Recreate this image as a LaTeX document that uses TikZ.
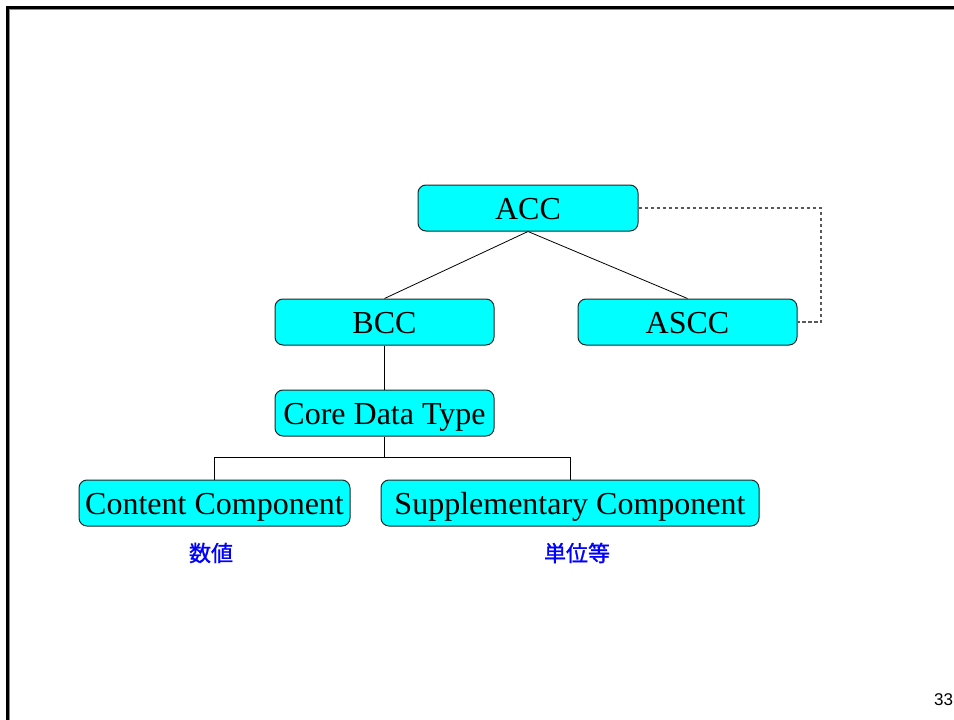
\documentclass[tikz,border=0pt]{standalone}
\usepackage{fontspec}
\setmainfont{Liberation Serif}
\newfontfamily\cjkfont[FakeBold=1.2]{Noto Sans CJK JP}
\newfontfamily\numfont{Liberation Sans}
\definecolor{boxcyan}{RGB}{0,255,255}
\definecolor{labelblue}{RGB}{0,0,255}
\begin{document}
\begin{tikzpicture}[x=1pt,y=-1pt,
  ccbox/.style={draw=black!85, line width=1pt, fill=boxcyan, rounded corners=8pt,
    minimum height=46pt, inner sep=0pt, text height=22pt, text depth=0pt,
    font=\fontsize{32}{38}\selectfont},
  link/.style={draw=black, line width=0.8pt},
  dashlink/.style={draw=black!65, line width=1.3pt, dash pattern=on 3.5pt off 2.5pt},
  note/.style={text=labelblue, font=\cjkfont\fontsize{22}{26}\selectfont}]
\useasboundingbox (0,0) rectangle (954,720);
\clip (0,0) rectangle (954,720);
% frame
\draw[black!45, line width=1pt] (9.5,720) -- (9.5,9.5) -- (954,9.5);
\draw[black, line width=3pt] (7,720) -- (7,7) -- (954,7);
% boxes
\node[ccbox, minimum width=220pt] (acc) at (528,208) {ACC};
\node[ccbox, minimum width=219pt] (bcc) at (384.5,322) {BCC};
\node[ccbox, minimum width=219pt] (ascc) at (687.5,322) {ASCC};
\node[ccbox, minimum width=219pt] (cdt) at (384.5,413) {Core Data Type};
\node[ccbox, minimum width=271pt] (cc) at (214.5,503) {Content Component};
\node[ccbox, minimum width=378pt] (sc) at (570,503) {Supplementary Component};
% connectors
\draw[link] (acc.south) -- (bcc.north);
\draw[link] (acc.south) -- (ascc.north);
\draw[link] (bcc.south) -- (cdt.north);
\coordinate (split) at (384.5,457);
\draw[link] (cdt.south) -- (split);
\draw[link] (cc.north) -- (cc.north |- split) -- (sc.north |- split) -- (sc.north);
\coordinate (dashcorner) at (821,208);
\draw[dashlink] (acc.east) -- (dashcorner) -- (dashcorner |- ascc.east) -- (ascc.east);
% notes
\node[note] (n1) at (211,553) {数値};
\node[note] (n2) at (577,553) {単位等};
% page number
\node[anchor=west, inner sep=0pt, font=\numfont\fontsize{17}{20}\selectfont] (pg) at (934,700) {33};
\end{tikzpicture}
\end{document}
